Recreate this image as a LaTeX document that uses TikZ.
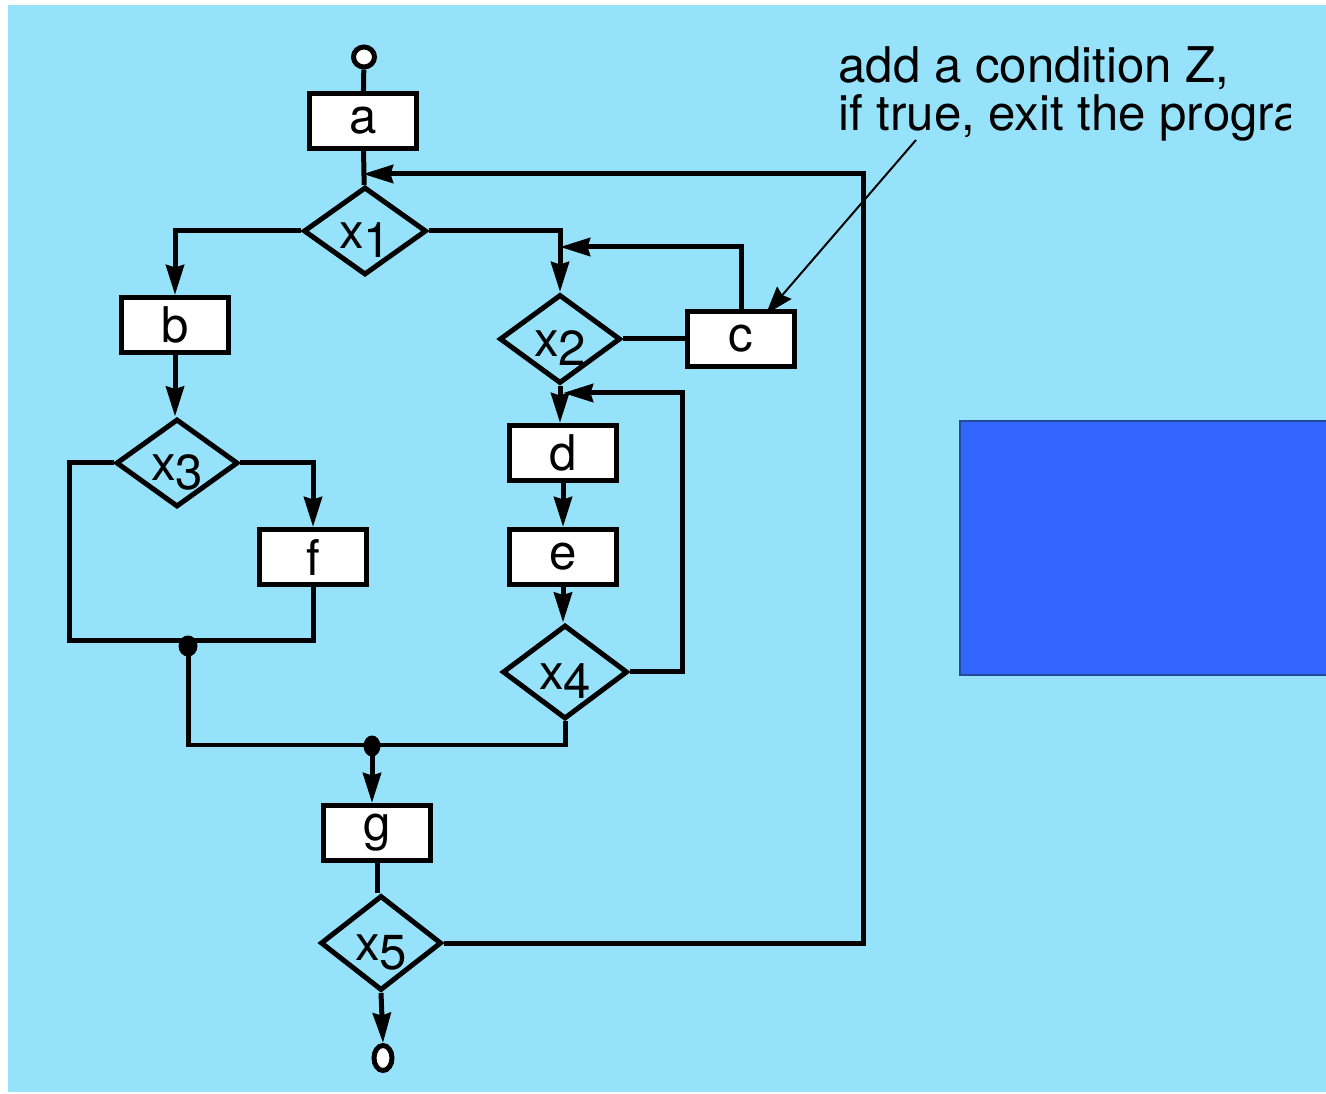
\documentclass[tikz,border=0pt]{standalone}
\usepackage{fontspec}
\setmainfont{TeX Gyre Heros}
\usetikzlibrary{positioning,calc}
\usetikzlibrary{shapes.geometric,arrows.meta}

\definecolor{panelblue}{RGB}{151,226,251}
\definecolor{blockblue}{RGB}{51,102,255}
\definecolor{blockedge}{RGB}{35,75,150}

\tikzset{
  stepbox/.style={draw, line width=0.1cm, fill=white, minimum width=2.14cm,
    minimum height=1.1cm, inner sep=0pt, font=\fontsize{28pt}{28pt}\selectfont},
  test/.style={draw, diamond, line width=0.1cm, minimum width=2.44cm,
    minimum height=1.76cm, inner sep=0pt, font=\fontsize{28pt}{28pt}\selectfont},
  terminal/.style={draw, ellipse, line width=0.1cm, fill=white, inner sep=0pt,
    minimum width=0.42cm, minimum height=0.4cm},
  flow/.style={line width=0.1cm},
  flowarrow/.style={flow, -{Stealth[length=0.6cm, width=0.36cm, inset=0.05cm]}},
  notearrow/.style={line width=0.04cm, -{Stealth[length=0.56cm, width=0.38cm, inset=0.06cm]}},
  note/.style={align=left, inner sep=0pt, font=\fontsize{28pt}{27.3pt}\selectfont},
}

\begin{document}
\begin{tikzpicture}[x=0.02cm, y=-0.02cm]
  % test label: x with its digit set a little lower
  \newcommand{\testlabel}[1]{\smash{\raisebox{-10pt}{x}\raisebox{-15pt}{#1}}}

  \useasboundingbox (0,0) rectangle (1326,1094);
  \fill[panelblue] (8,5) rectangle (1326,1092);

  % Blocks
  \node[terminal] (start) at (364,57) {};
  \node[stepbox] (a) at (363,121) {a};
  \node[test, minimum width=2.46cm] (x1) at (365,231) {\testlabel{1}};
  \node[stepbox] (b) at (175,325) {b};
  \node[test, minimum width=2.44cm] (x3) at (177,463) {\testlabel{3}};
  \node[stepbox] (f) at (313,557) {f};
  \node[test, minimum width=2.42cm, minimum height=1.78cm] (x2) at (560,339) {\testlabel{2}};
  \node[stepbox] (c) at (741,339) {c};
  \node[stepbox] (d) at (563,453) {d};
  \node[stepbox] (e) at (563,557) {e};
  \node[test, minimum width=2.5cm, minimum height=1.88cm] (x4) at (565,672) {\testlabel{4}};
  \node[stepbox] (g) at (377,833) {g};
  \node[test, minimum width=2.42cm, minimum height=1.9cm] (x5) at (381,943) {\testlabel{5}};
  \node[terminal, minimum width=0.36cm, minimum height=0.5cm] (stop) at (383,1058) {};

  % Corner points
  \coordinate (leftrail) at (69,641);
  \coordinate (join1) at (188,641);
  \coordinate (join2) at (372,745);
  \coordinate (cjoin) at (741,247);
  \coordinate (x4back) at (682,393);
  \coordinate (loopback) at (863,174);
  \coordinate (notefoot) at (916,140);

  % Main line
  \draw[flow] (start) -- (a);
  \draw[flow] (a) -- (x1);
  \draw[flowarrow] (x5.east) -| (loopback) -- (loopback -| a.south);

  % Left branch
  \draw[flowarrow] (x1.west) -| (b.north);
  \draw[flowarrow] (b.south) -- (b.south |- x3.north);
  \draw[flowarrow] (x3.east) -| (f.north);
  \draw[flow] (x3.west) -| (leftrail) -| (f.south);
  \draw[flow] (join1) |- (x4.south |- join2) -- (x4.south);
  \fill ([yshift=-0.1cm]join1) ellipse [x radius=0.19cm, y radius=0.21cm];
  \fill ([yshift=-0.02cm]join2) ellipse [x radius=0.17cm, y radius=0.21cm];
  \draw[flowarrow] (join2) -- (join2 |- g.north);

  % Right branch
  \draw[flowarrow] (x1.east) -| (x2.north);
  \draw[flow] (x2) -- (c);
  \draw[flowarrow] (c.north) -- (cjoin) -- (cjoin -| x2.north);
  \draw[flowarrow] (x2.south) -- (x2.south |- d.north);
  \draw[flowarrow] (d) -- (e);
  \draw[flowarrow] (e.south) -- (e.south |- x4.north);
  \draw[flowarrow] (x4.east) -| (x4back) -- (x4back -| d.north);

  % Exit
  \draw[flow] (g.south) -- (g.south |- x5.north);
  \draw[flowarrow] (x5.south) -- (stop.north);

  % Note
  \begin{scope}
    \clip (830,25) rectangle (1290,160);
    \node[note, anchor=north west] (remark) at (838,46)
      {add a condition Z,\\if true, exit the program};
  \end{scope}
  \draw[notearrow] (notefoot) -- ($(c.north)+(25,5)$);

  % Side block
  \draw[fill=blockblue, draw=blockedge, line width=0.04cm] (960,421) rectangle (1330,675);
\end{tikzpicture}
\end{document}
